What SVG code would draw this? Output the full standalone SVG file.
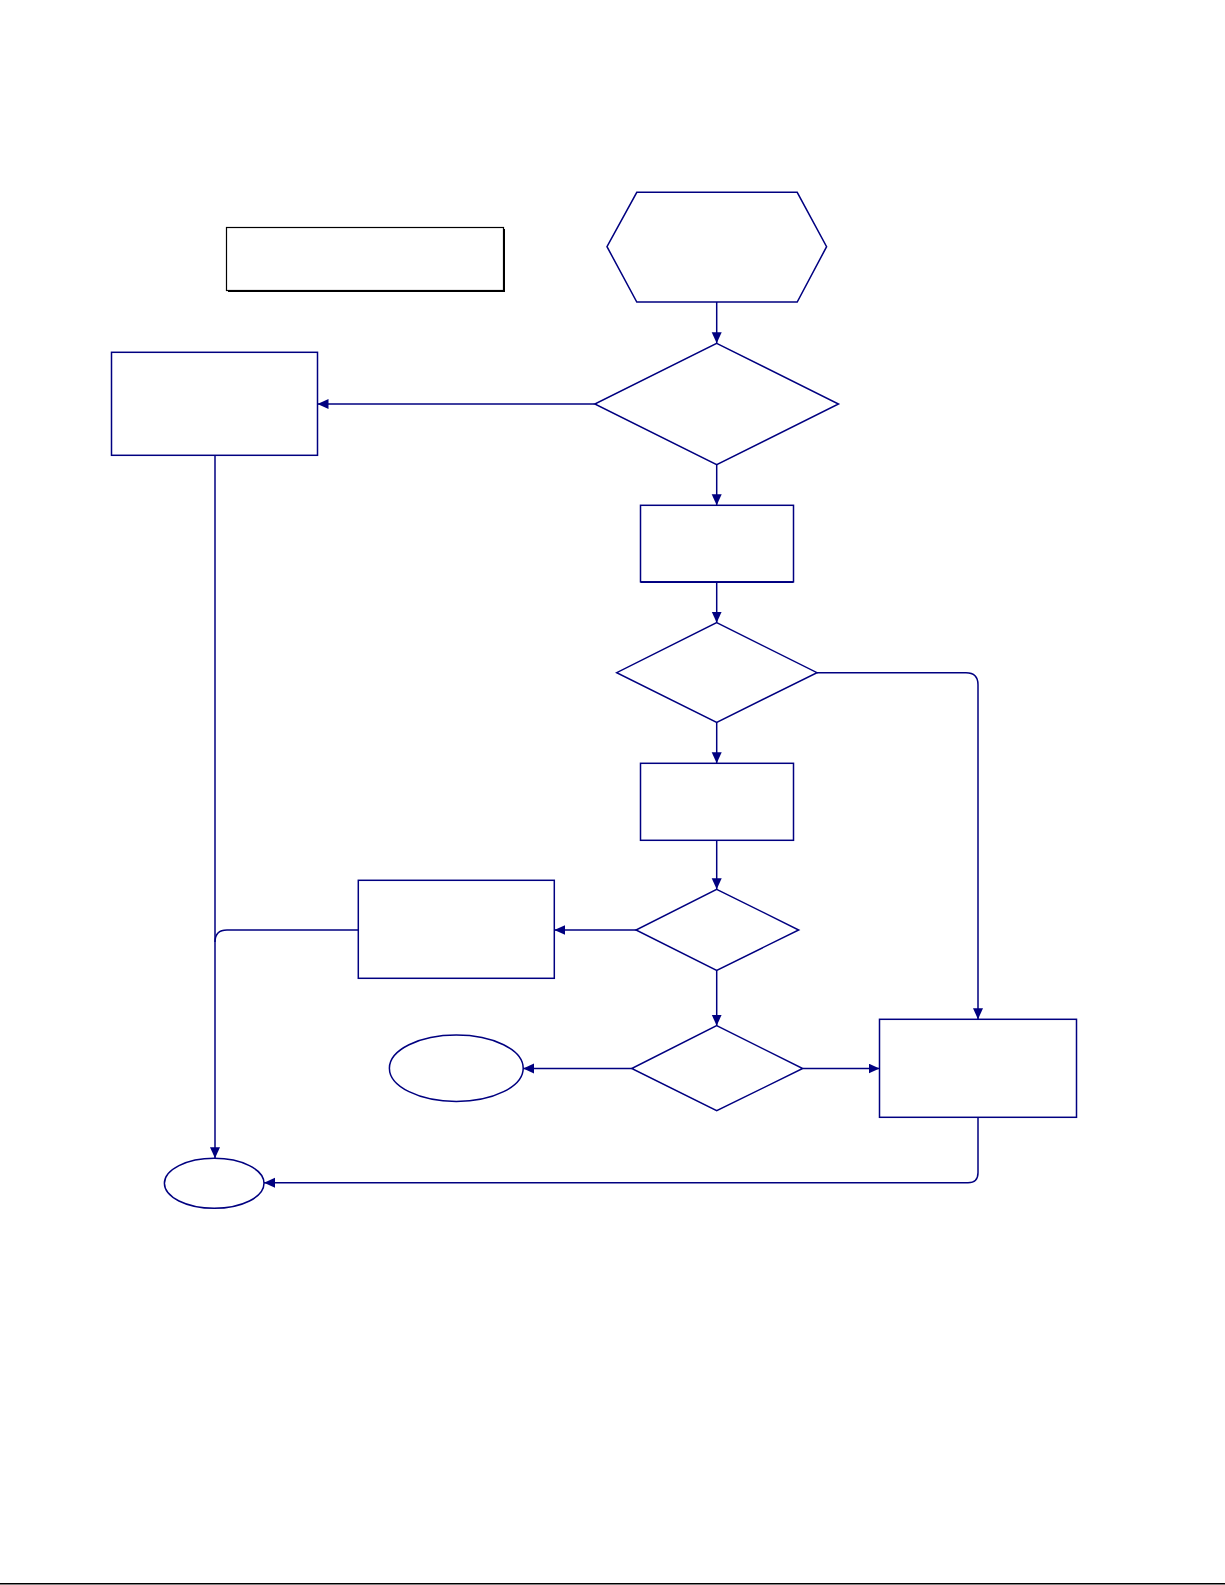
<svg xmlns="http://www.w3.org/2000/svg" width="1225" height="1585" viewBox="0 0 1225 1585">
<defs>
<style>
.s{fill:#fff;stroke:#000080;stroke-width:1.5}
.c{fill:none;stroke:#000080;stroke-width:1.5}
</style>
<marker id="ah" markerUnits="userSpaceOnUse" markerWidth="12" markerHeight="11" refX="11" refY="5" orient="auto">
<path d="M0,0 L11,5 L0,10 z" fill="#000080"/>
</marker>
</defs>
<rect width="1225" height="1585" fill="#fff"/>
<g id="title">
<rect x="228" y="229" width="277" height="63" fill="#000"/>
<rect x="226.5" y="227.5" width="277" height="63" fill="#fff" stroke="#000" stroke-width="1.2"/>
</g>
<g id="start"><polygon class="s" points="607,246.7 636.8,192.3 797.2,192.3 826.6,246.7 797.2,302 636.8,302"/></g>
<g id="d1"><polygon class="s" points="716.7,343.3 838.5,404 716.7,464.7 594.8,404"/></g>
<g id="p1"><rect class="s" x="111.5" y="352.3" width="206" height="103"/></g>
<g id="p2"><rect class="s" x="640.5" y="505.3" width="153" height="76.5"/><line x1="640.5" y1="582.3" x2="793.5" y2="582.3" stroke="#000080" stroke-width="1.5"/></g>
<g id="d2"><polygon class="s" points="716.7,622.7 817,672.7 716.7,722.3 616.7,672.7"/></g>
<g id="p3"><rect class="s" x="640.5" y="763.3" width="153" height="77"/></g>
<g id="d3"><polygon class="s" points="716.7,889.3 798.7,930 716.7,970.3 636,930"/></g>
<g id="p4"><rect class="s" x="358.3" y="880.3" width="196" height="98"/></g>
<g id="d4"><polygon class="s" points="716.7,1025.7 802.7,1068.5 716.7,1110.7 631.7,1068.5"/></g>
<g id="e1"><ellipse class="s" cx="456.3" cy="1068.2" rx="66.9" ry="33.2"/></g>
<g id="p5"><rect class="s" x="879.5" y="1019.3" width="197" height="98"/></g>
<g id="end"><ellipse class="s" cx="214.2" cy="1183.3" rx="49.8" ry="25"/></g>
<g id="connectors">
<line class="c" x1="716.7" y1="302" x2="716.7" y2="343.3" marker-end="url(#ah)"/>
<line class="c" x1="594.8" y1="404" x2="317.5" y2="404" marker-end="url(#ah)"/>
<line class="c" x1="716.7" y1="464.7" x2="716.7" y2="505.3" marker-end="url(#ah)"/>
<line class="c" x1="716.7" y1="582.3" x2="716.7" y2="622.7" marker-end="url(#ah)"/>
<path class="c" d="M817,672.7 H966 Q978,672.7 978,684.7 V1019.3" marker-end="url(#ah)"/>
<line class="c" x1="716.7" y1="722.3" x2="716.7" y2="763.3" marker-end="url(#ah)"/>
<line class="c" x1="716.7" y1="840.3" x2="716.7" y2="889.3" marker-end="url(#ah)"/>
<line class="c" x1="636" y1="930" x2="554.3" y2="930" marker-end="url(#ah)"/>
<line class="c" x1="716.7" y1="970.3" x2="716.7" y2="1025.7" marker-end="url(#ah)"/>
<line class="c" x1="631.7" y1="1068.5" x2="523.2" y2="1068.5" marker-end="url(#ah)"/>
<line class="c" x1="802.7" y1="1068.5" x2="879.5" y2="1068.5" marker-end="url(#ah)"/>
<line class="c" x1="215" y1="455.3" x2="215" y2="1158.3" marker-end="url(#ah)"/>
<path class="c" d="M358.3,930 H227 Q215,930 215,942"/>
<path class="c" d="M978,1117.3 V1172.7 Q978,1182.7 968,1182.7 H264" marker-end="url(#ah)"/>
</g>
<line x1="0" y1="1583.8" x2="1225" y2="1583.8" stroke="#000" stroke-width="1.5"/>
</svg>
